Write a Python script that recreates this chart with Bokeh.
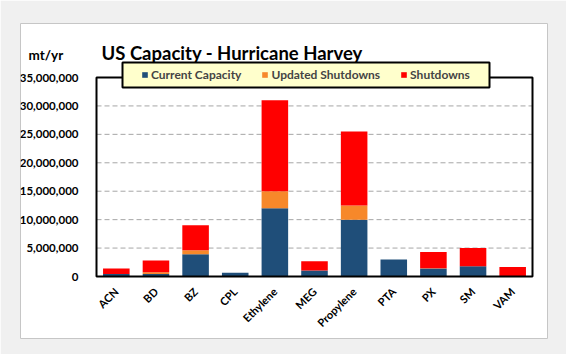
from bokeh.plotting import figure
from bokeh.models import (Range1d, FixedTicker, NumeralTickFormatter,
                          Legend, LegendItem, Label, BoxAnnotation, ColumnDataSource)
from bokeh.embed import file_html
from bokeh.resources import INLINE

# ---- data ----
categories = ["ACN", "BD", "BZ", "CPL", "Ethylene", "MEG", "Propylene", "PTA", "PX", "SM", "VAM"]
current_capacity = [450000, 450000, 3900000, 650000, 12000000, 1050000, 10000000, 3000000, 1400000, 1800000, 0]
updated_shutdowns = [0, 300000, 700000, 0, 3000000, 0, 2500000, 0, 60000, 0, 0]
shutdowns = [950000, 2050000, 4400000, 0, 16000000, 1650000, 13000000, 0, 2850000, 3200000, 1650000]
series_names = ["Current Capacity", "Updated Shutdowns", "Shutdowns"]
y_ticks = [0, 5000000, 10000000, 15000000, 20000000, 25000000, 30000000, 35000000]

# ---- layout constants (pixels) ----
W, H = 566, 354
PANEL_L, PANEL_R, PANEL_T, PANEL_B = 20, 547, 23, 338
AREA_L, AREA_R, AREA_T, AREA_B = 96, 532, 77, 276

FONT = "Lato"
colors = ["#1F4E79", "#F7882A", "#FF0000"]

n = len(categories)
xs = list(range(n))
unit_x = (AREA_R - AREA_L) / n
x_start = -0.5 - (AREA_L - PANEL_L) / unit_x
x_end = n - 0.5 + (PANEL_R - AREA_R) / unit_x
y_top = y_ticks[-1]
unit_y = y_top / (AREA_B - AREA_T)
y_start = -(PANEL_B - AREA_B) * unit_y
y_end = y_top + (AREA_T - PANEL_T) * unit_y

source = ColumnDataSource(dict(x=xs, cat=categories, current=current_capacity,
                               updated=updated_shutdowns, shut=shutdowns))

p = figure(x_range=Range1d(x_start, x_end), y_range=Range1d(y_start, y_end),
           width=W, height=H, output_backend="svg", toolbar_location=None,
           min_border_left=PANEL_L, min_border_right=W - PANEL_R,
           min_border_top=PANEL_T, min_border_bottom=H - PANEL_B,
           background_fill_color="white", border_fill_color="#F0F0F0",
           outline_line_color="#C6C6C6", outline_line_width=1)
p.xgrid.visible = False
p.ygrid.visible = False

# dashed gridlines inside the plot area
grid_vals = y_ticks[1:-1]
p.segment(x0=[-0.5] * len(grid_vals), x1=[n - 0.5] * len(grid_vals), y0=grid_vals, y1=grid_vals,
          line_color="#A6A6A6", line_dash="5 3", line_width=1)

rs = p.vbar_stack(["current", "updated", "shut"], x="x", width=0.67, color=colors,
                  line_color=None, source=source)

# plot-area frame
p.quad(left=[-0.5], right=[n - 0.5], bottom=[0], top=[y_top], fill_color=None,
       line_color="black", line_width=2)

# axes placed at the plot-area edges
ya = p.yaxis[0]
ya.fixed_location = -0.5
ya.ticker = FixedTicker(ticks=y_ticks)
ya.formatter = NumeralTickFormatter(format="0,0")
ya.major_label_text_font_size = "11.5px"
ya.major_label_standoff = 12

xa = p.xaxis[0]
xa.fixed_location = 0
xa.ticker = FixedTicker(ticks=xs)
xa.major_label_overrides = {i: c for i, c in zip(xs, categories)}
xa.major_label_orientation = 0.785398
xa.major_label_text_font_size = "11px"
xa.major_label_standoff = 7

for ax in (xa, ya):
    ax.axis_line_color = None
    ax.major_tick_line_color = None
    ax.minor_tick_line_color = None
    ax.major_label_text_font = FONT
    ax.major_label_text_font_style = "bold"
    ax.major_label_text_color = "black"

# legend box + legend
box = BoxAnnotation(left=122 - PANEL_L, right=489 - PANEL_L,
                    top=PANEL_B - 62, bottom=PANEL_B - 87,
                    left_units="screen", right_units="screen",
                    top_units="screen", bottom_units="screen",
                    fill_color="#FFFFCC", fill_alpha=1.0,
                    line_color="black", line_width=2, line_alpha=1.0)
p.add_layout(box)

legend = Legend(items=[LegendItem(label=s, renderers=[r]) for s, r in zip(series_names, rs)],
                orientation="horizontal", location=(141 - PANEL_L, PANEL_B - 82),
                padding=0, spacing=20, glyph_width=7, glyph_height=7, label_standoff=3,
                label_height=15, label_text_font=FONT, label_text_font_style="bold",
                label_text_font_size="12px", border_line_alpha=0, background_fill_alpha=0,
                margin=0)
p.add_layout(legend, "center")

p.add_layout(Label(x=101 - PANEL_L, y=PANEL_B - 52, x_units="screen", y_units="screen",
                   text="US Capacity - Hurricane Harvey", text_font=FONT,
                   text_font_style="bold", text_font_size="18.5px", text_color="black",
                   text_baseline="alphabetic"))
p.add_layout(Label(x=28 - PANEL_L, y=PANEL_B - 54, x_units="screen", y_units="screen",
                   text="mt/yr", text_font=FONT, text_font_style="bold",
                   text_font_size="13.5px", text_color="black", text_baseline="alphabetic"))

open("out.html", "w").write(file_html(p, INLINE))
